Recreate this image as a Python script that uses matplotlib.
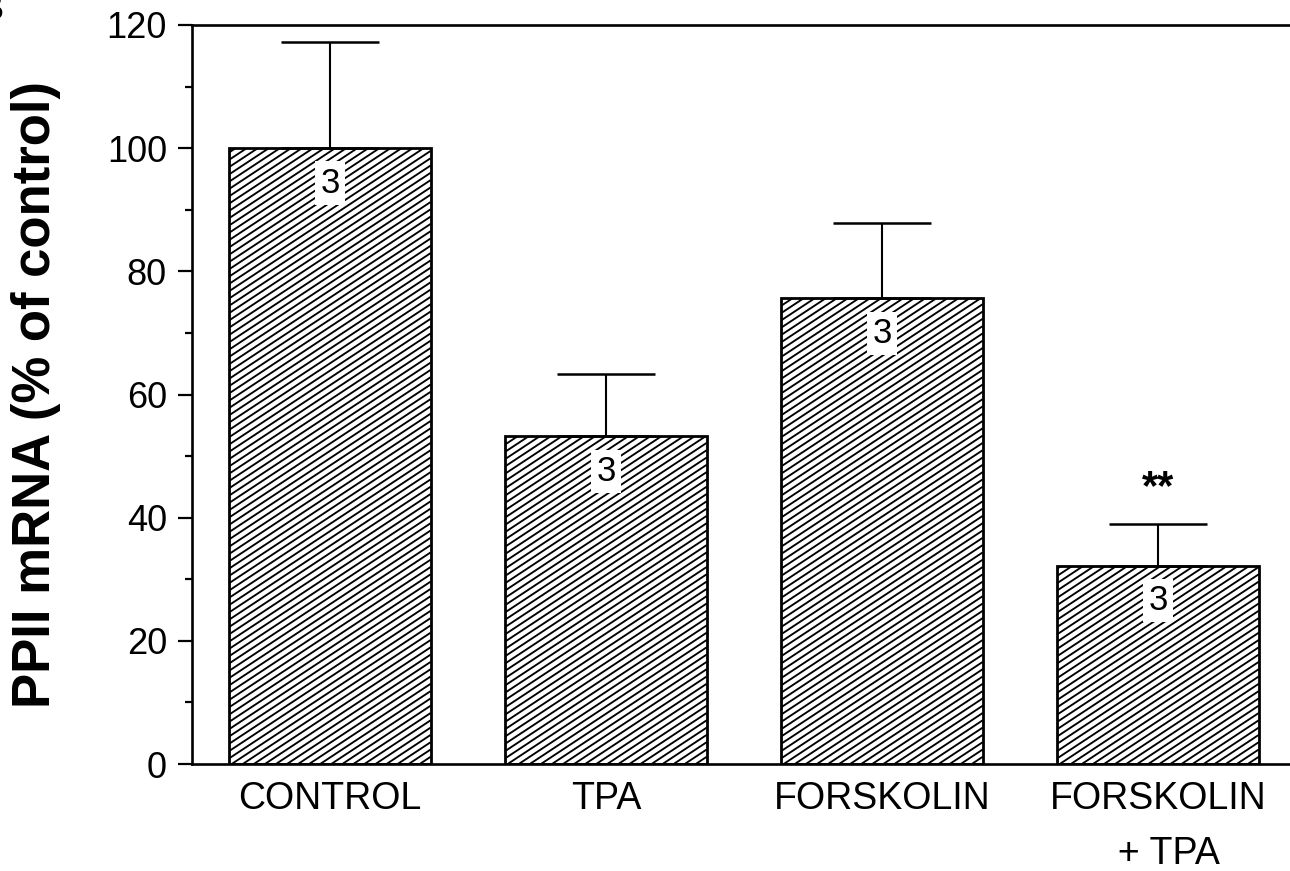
import numpy as np
import matplotlib
matplotlib.use("Agg")
import matplotlib.pyplot as plt
from matplotlib.collections import LineCollection
from matplotlib.transforms import IdentityTransform
from matplotlib.ticker import MultipleLocator

plt.rcParams['font.family'] = ['Liberation Sans', 'DejaVu Sans']

# PPII mRNA levels after treatment, expressed as % of control (mean + SEM)
categories = ["CONTROL", "TPA", "FORSKOLIN", "FORSKOLIN\n  + TPA"]
means = [100.0, 53.2, 75.6, 32.2]
sem = [17.3, 10.1, 12.3, 6.8]
n_counts = ["3", "3", "3", "3"]
significance = ["", "", "", "**"]

fig = plt.figure(figsize=(12.9, 8.71), dpi=100)
ax = fig.add_axes([0.1488, 0.1228, 0.8589, 0.8485])

x = np.arange(len(categories))
bars = ax.bar(x, means, width=0.73, facecolor='none', edgecolor='black',
              linewidth=2.0, zorder=3)

ax.errorbar(x, means, yerr=[np.zeros(len(sem)), sem], fmt='none',
            ecolor='black', elinewidth=1.5, capsize=35.5, capthick=1.8,
            zorder=2)

ax.set_xlim(-0.5, 3.514)
ax.set_ylim(0, 120)

# diagonal hatching drawn in pixel space and clipped to each bar
slope = 0.66
step = 7.3
for bar in bars:
    bb = bar.get_window_extent()
    x0, y0, x1, y1 = bb.x0, bb.y0, bb.x1, bb.y1
    c_start = y0 - slope * x1 - step
    c_end = y1 - slope * x0 + step
    segs = [[(x0, slope * x0 + c), (x1, slope * x1 + c)]
            for c in np.arange(c_start, c_end, step)]
    lc = LineCollection(segs, colors='black', linewidths=1.35,
                        transform=IdentityTransform(), zorder=1.5)
    ax.add_collection(lc, autolim=False)
    lc.set_clip_box(None)
    lc.set_clip_path(bar)

# sample size inside each bar
for xi, m, n in zip(x, means, n_counts):
    ax.annotate(n, (xi, m), xytext=(0, -32), textcoords='offset points',
                ha='center', va='baseline', fontsize=25, zorder=4,
                bbox=dict(boxstyle='square,pad=0.15', fc='white', ec='none'))

# significance markers above the error bars
for xi, m, s, lab in zip(x, means, sem, significance):
    if lab:
        ax.annotate(lab, (xi, m + s), xytext=(0, 18),
                    textcoords='offset points', ha='center', va='baseline',
                    fontsize=30, fontweight='bold')

ax.spines['right'].set_visible(False)
for side in ('left', 'top', 'bottom'):
    ax.spines[side].set_linewidth(1.9)

ax.yaxis.set_major_locator(MultipleLocator(20))
ax.yaxis.set_minor_locator(MultipleLocator(10))
ax.tick_params(axis='y', which='major', direction='out', length=10,
               width=1.6, labelsize=26, pad=8)
ax.tick_params(axis='y', which='minor', direction='out', length=5, width=1.6)

ax.set_xticks(x)
ax.set_xticklabels(categories, fontsize=27, linespacing=1.7)
ax.tick_params(axis='x', which='both', length=0, pad=12)

fig.text(36 / 1290, 1 - 394 / 871, "PPII mRNA (% of control)", rotation=90,
         ha='center', va='center', fontsize=38, fontweight='bold')

fig.text(4 / 1290, 1 - 10 / 871, "B", ha='right', va='center', fontsize=28,
         fontweight='bold')

fig.savefig("out.png", dpi=100)
